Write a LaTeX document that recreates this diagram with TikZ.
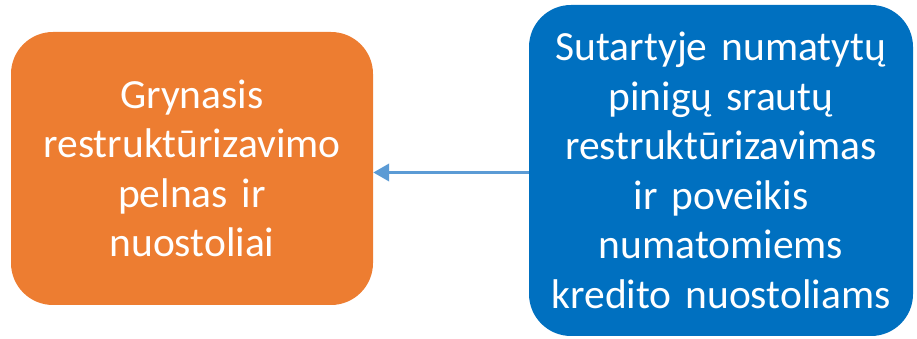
\documentclass[tikz,border=0pt]{standalone}
\usepackage{fontspec}
\setmainfont{Carlito}
\usetikzlibrary{positioning, arrows.meta}
\definecolor{clrresult}{HTML}{ED7D31}
\definecolor{clrcause}{HTML}{0070C0}
\definecolor{clrlink}{HTML}{5B9BD5}

\begin{document}
\begin{tikzpicture}[
    x=1pt, y=1pt,
    every node/.style={font=\fontsize{41.5}{49.5}\selectfont},
    block/.style={rounded corners=42pt, text=white, align=center, inner sep=0pt},
    arrow/.style={-{Triangle[length=16pt, width=17pt]}, color=clrlink, line width=3.8pt},
]
\useasboundingbox (0,0) rectangle (917,339);
\node[block, fill=clrresult, minimum width=362pt, minimum height=273pt, text width=355pt] (n_result) at (192,170.5) {Grynasis\\restruktūrizavimo\\pelnas ir\\nuostoliai};
\node[block, fill=clrcause, minimum width=384pt, minimum height=331pt, text width=378pt] (n_cause) at (721,168.5) {Sutartyje numatytų\\pinigų srautų\\restruktūrizavimas\\ir poveikis\\numatomiems\\kredito nuostoliams};
\draw[arrow] ([yshift=-2pt]n_cause.west) -- ([yshift=-2pt]n_cause.west -| n_result.east);
\end{tikzpicture}
\end{document}
